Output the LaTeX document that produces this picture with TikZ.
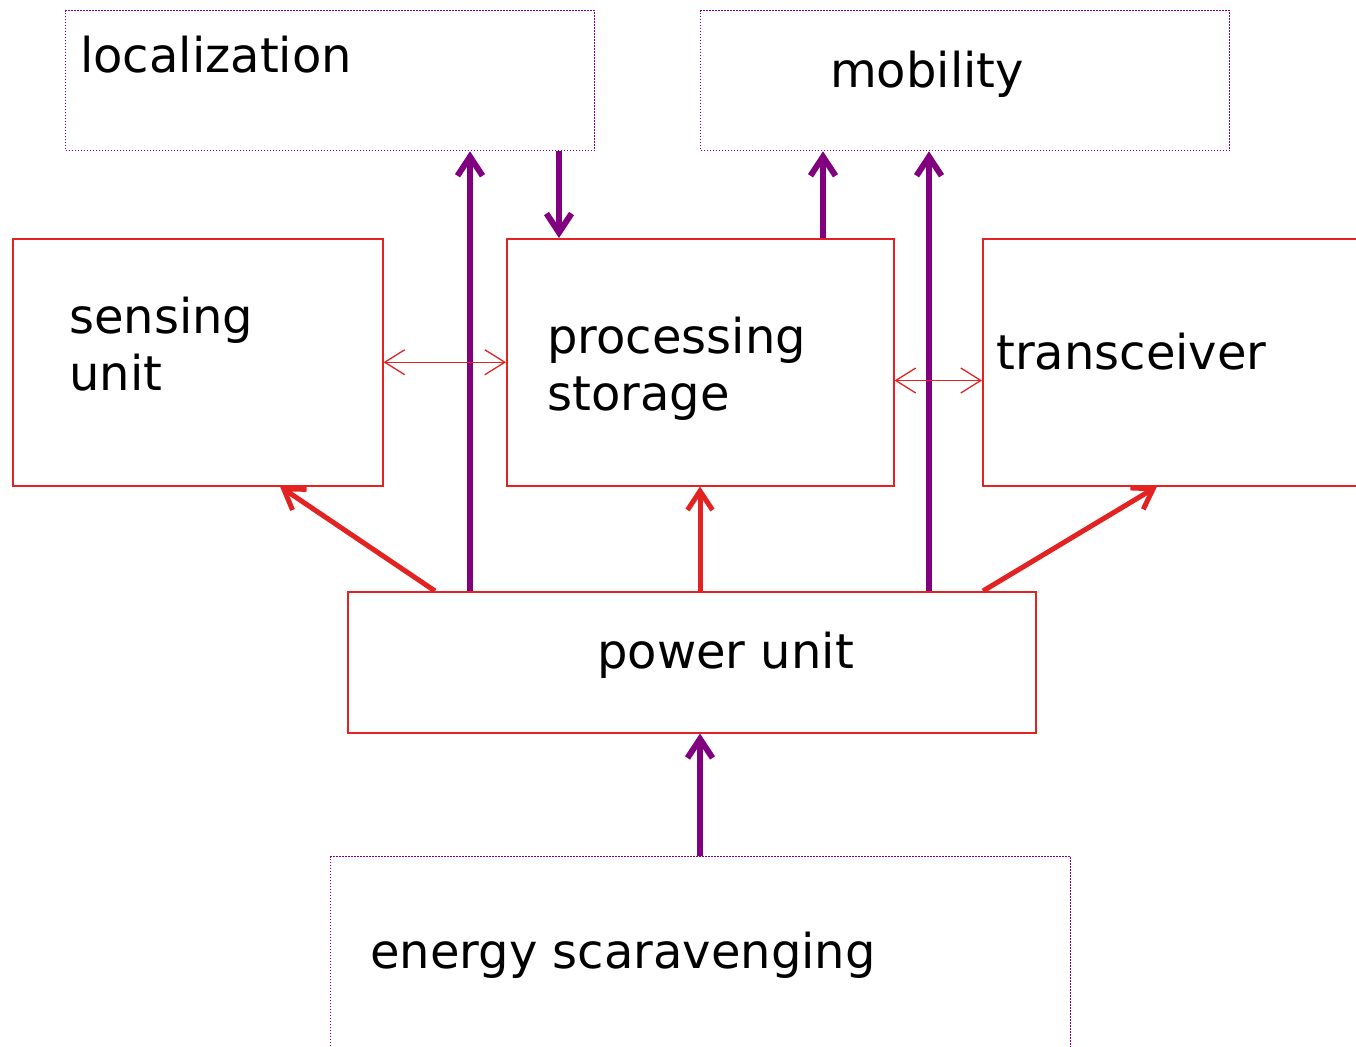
\documentclass[tikz,border=0pt]{standalone}
\usepackage{fontspec}
\setmainfont{DejaVu Sans}
\usetikzlibrary{arrows.meta,calc}
\definecolor{pur}{HTML}{800080}
\definecolor{rd}{HTML}{E32322}
\begin{document}
\begin{tikzpicture}[x=1pt,y=-1pt,
  dotbox/.style={draw=pur,line width=1.3pt,dash pattern=on 1.5pt off 1.5pt,rectangle,inner sep=0pt,anchor=north west},
  redbox/.style={draw=rd,line width=1.5pt,rectangle,inner sep=0pt,anchor=north west},
  lbl/.style={anchor=base west,inner sep=0pt,font=\fontsize{48}{57}\selectfont},
  parrow/.style={draw=pur,line width=6pt,-{Straight Barb[length=19pt,width=25pt]}},
  rarrow/.style={draw=rd,line width=5pt,-{Straight Barb[length=19pt,width=25pt]}},
  thin/.style={draw=rd,line width=1.3pt,{Straight Barb[length=20pt,width=25pt]}-{Straight Barb[length=20pt,width=25pt]}}]
\useasboundingbox (0,0) rectangle (1356,1046);
\clip (0,0) rectangle (1356,1046);
\node[dotbox,minimum width=529pt,minimum height=140pt] (loc) at (65,10) {};
\node[dotbox,minimum width=529pt,minimum height=140pt] (mob) at (700,10) {};
\node[redbox,minimum width=370pt,minimum height=247pt] (sen) at (12,238) {};
\node[redbox,minimum width=387pt,minimum height=247pt] (proc) at (506,238) {};
\node[redbox,minimum width=420pt,minimum height=247pt] (tr) at (982,238) {};
\node[redbox,minimum width=688pt,minimum height=141pt] (pu) at (347,591) {};
\node[dotbox,minimum width=740pt,minimum height=240pt] (en) at (330,856) {};

\node[lbl] (locT) at (80,73) {localization};
\node[lbl] (mobT) at (830,88) {mobility};
\node[lbl] (senT1) at (69,333) {sensing};
\node[lbl] (senT2) at (69,390) {unit};
\node[lbl] (procT1) at (547,353) {processing};
\node[lbl] (procT2) at (547,410) {storage};
\node[lbl] (trT) at (996,369) {transceiver};
\node[lbl] (puT) at (597,668) {power unit};
\node[lbl] (enT) at (370,968) {energy scaravenging};

\draw[parrow] ($(pu.north west)+(123,0)$) -- ($(loc.south west)+(405,0)$);
\draw[parrow] ($(loc.south west)+(494,0)$) -- ($(proc.north west)+(53,0)$);
\draw[parrow] ($(proc.north west)+(317,0)$) -- ($(mob.south west)+(123,0)$);
\draw[parrow] ($(pu.north west)+(582,0)$) -- ($(mob.south west)+(229,0)$);
\draw[parrow] ($(en.north west)+(370,0)$) -- ($(pu.south west)+(353,0)$);
\draw[rarrow] ($(pu.north west)+(88,0)$) -- ($(sen.south west)+(268,0)$);
\draw[rarrow] ($(pu.north west)+(353,0)$) -- ($(proc.south west)+(194,0)$);
\draw[rarrow] ($(pu.north west)+(636,0)$) -- ($(tr.south west)+(175,0)$);
\draw[thin] (sen.east) -- (proc.west);
\draw[thin] ($(proc.south east)+(0,-106)$) -- ($(tr.south west)+(0,-106)$);
\end{tikzpicture}
\end{document}
